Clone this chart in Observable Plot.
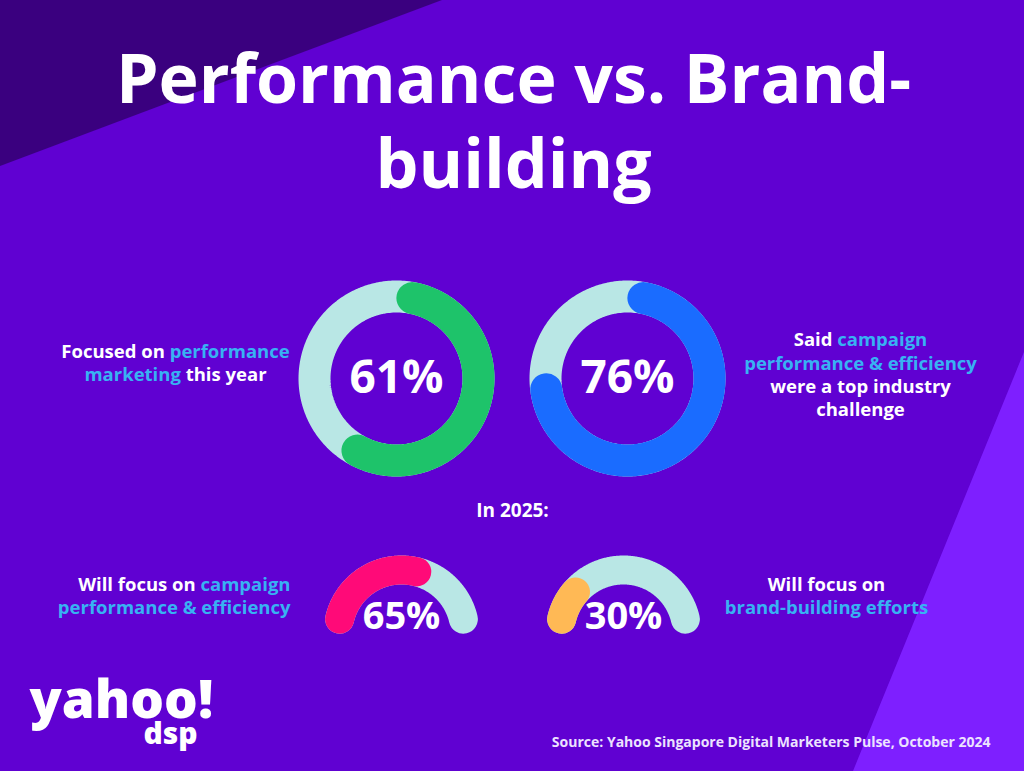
<!DOCTYPE html>
<html><head><meta charset="utf-8">
<script src="https://cdn.jsdelivr.net/npm/d3@7"></script>
<script src="https://cdn.jsdelivr.net/npm/@observablehq/plot@0.6"></script>
<style>html,body{margin:0;padding:0;background:#6001d2;overflow:hidden}</style>
</head><body><div id="chart"></div>
<script>
// ---- data ----
const ringValues = [61, 76];
const ringLabels = ["61%", "76%"];
const ringColors = ["#1ec36a", "#1a6cff"];
const gaugeValues = [65, 30];
const gaugeLabels = ["65%", "30%"];
const gaugeColors = ["#ff0a78", "#ffb955"];
const trackColor = "#b9e7e5";
const titleLines = ["Performance vs. Brand-", "building"];
const ringTexts = [
  [[["Focused on ", "w"], ["performance", "c"]], [["marketing ", "c"], ["this year", "w"]]],
  [[["Said ", "w"], ["campaign", "c"]], [["performance & efficiency", "c"]], [["were a top industry", "w"]], [["challenge", "w"]]]
];
const gaugeTexts = [
  [[["Will focus on ", "w"], ["campaign", "c"]], [["performance & efficiency", "c"]]],
  [[["Will focus on", "w"]], [["brand-building efforts", "c"]]]
];
const subhead = "In 2025:";
const source = "Source: Yahoo Singapore Digital Marketers Pulse, October 2024";

// ---- layout ----
const W = 1024, H = 771;
const FONT = "'Open Sans', sans-serif";
const textColors = {w: "#ffffff", c: "#38b2f2"};
const ringCenters = [[396, 378], [627, 378]];
const ringR = 82, ringW = 32;
const gaugeCenters = [[401, 633], [623, 633]];
const gaugeR = 63.5, gaugeW = 29;

function arcPts(cx, cy, r, a0, a1, n = 240) {
  return d3.range(n + 1).map(i => {
    const a = a0 + (a1 - a0) * i / n;
    return {x: cx + r * Math.sin(a), y: cy - r * Math.cos(a)};
  });
}

const ctx = document.createElement("canvas").getContext("2d");
function segLine(segs, x, y, anchor, size, weight) {
  ctx.font = `${weight} ${size}px ${FONT}`;
  const widths = segs.map(s => ctx.measureText(s[0]).width);
  const total = d3.sum(widths);
  let x0 = anchor === "middle" ? x - total / 2 : anchor === "end" ? x - total : x;
  return segs.map((s, i) => { const o = {text: s[0], x: x0, y, fill: textColors[s[1]]}; x0 += widths[i]; return o; });
}

const marks = [];
// background decorations
marks.push(Plot.areaY([{x: 0, y: 166}, {x: 442, y: 0}], {x: "x", y1: 0, y2: "y", fill: "#3a007f"}));
marks.push(Plot.areaY([{x: 853, y: 771}, {x: 1024, y: 352}], {x: "x", y1: "y", y2: H, fill: "#7e1fff"}));

// rings
ringValues.forEach((v, i) => {
  const [cx, cy] = ringCenters[i];
  marks.push(Plot.line(arcPts(cx, cy, ringR, 0, 2 * Math.PI), {x: "x", y: "y", stroke: trackColor, strokeWidth: ringW}));
  const inset = (ringW / 2) / ringR;
  marks.push(Plot.line(arcPts(cx, cy, ringR, inset, v / 100 * 2 * Math.PI - inset), {x: "x", y: "y", stroke: ringColors[i], strokeWidth: ringW, strokeLinecap: "round"}));
  marks.push(Plot.text([ringLabels[i]], {x: () => cx, y: () => cy, text: d => d, fill: "white", fontSize: 46, fontWeight: 700, fontFamily: FONT, lineAnchor: "middle"}));
});
// gauges
gaugeValues.forEach((v, i) => {
  const [cx, cy] = gaugeCenters[i];
  const inset = (gaugeW / 2) / gaugeR;
  marks.push(Plot.line(arcPts(cx, cy, gaugeR, -Math.PI / 2 + inset, Math.PI / 2 - inset), {x: "x", y: "y", stroke: trackColor, strokeWidth: gaugeW, strokeLinecap: "round"}));
  marks.push(Plot.line(arcPts(cx, cy, gaugeR, -Math.PI / 2 + inset, -Math.PI / 2 + v / 100 * Math.PI - inset), {x: "x", y: "y", stroke: gaugeColors[i], strokeWidth: gaugeW, strokeLinecap: "round"}));
  marks.push(Plot.text([gaugeLabels[i]], {x: () => cx, y: () => 616, text: d => d, fill: "white", fontSize: 38, fontWeight: 700, fontFamily: FONT, lineAnchor: "middle"}));
});

// labels
const LS = 18.5;
let segs = [];
ringTexts[0].forEach((ln, j) => segs.push(...segLine(ln, 175, 352 + j * 23, "middle", LS, 700)));
ringTexts[1].forEach((ln, j) => segs.push(...segLine(ln, 860, 340 + j * 23.3, "middle", LS, 700)));
gaugeTexts[0].forEach((ln, j) => segs.push(...segLine(ln, 290, 585 + j * 23, "end", LS, 700)));
gaugeTexts[1].forEach((ln, j) => segs.push(...segLine(ln, 826, 585 + j * 23, "middle", LS, 700)));
marks.push(Plot.text(segs, {x: "x", y: "y", text: "text", fill: "fill", textAnchor: "start", fontSize: LS, fontWeight: 700, fontFamily: FONT, lineAnchor: "middle"}));

// title, subhead, source, logo
marks.push(Plot.text(titleLines, {x: () => 513, y: (d, i) => 81 + i * 85, text: d => d, fill: "white", fontSize: 68, fontWeight: 700, fontFamily: FONT, lineAnchor: "middle"}));
marks.push(Plot.text([subhead], {x: () => 512, y: () => 510, text: d => d, fill: "white", fontSize: 19, fontWeight: 700, fontFamily: FONT, lineAnchor: "middle"}));
marks.push(Plot.text([source], {x: () => 990, y: () => 742, text: d => d, fill: "#ece2ff", fontSize: 14, fontWeight: 700, fontFamily: FONT, textAnchor: "end", lineAnchor: "middle"}));
marks.push(Plot.text(["yahoo!"], {x: () => 29, y: () => 701, text: d => d, fill: "white", fontSize: 53, fontWeight: 800, fontFamily: FONT, textAnchor: "start", lineAnchor: "middle"}));
marks.push(Plot.text(["dsp"], {x: () => 143, y: () => 734, text: d => d, fill: "white", fontSize: 30, fontWeight: 800, fontFamily: FONT, textAnchor: "start", lineAnchor: "middle"}));

const chart = Plot.plot({
  width: W, height: H, margin: 0,
  x: {domain: [0, W], range: [0, W], axis: null},
  y: {domain: [0, H], range: [0, H], axis: null},
  color: {type: "identity"},
  style: {background: "#6001d2", overflow: "visible"},
  marks
});
document.getElementById("chart").append(chart);
</script>
</body></html>
